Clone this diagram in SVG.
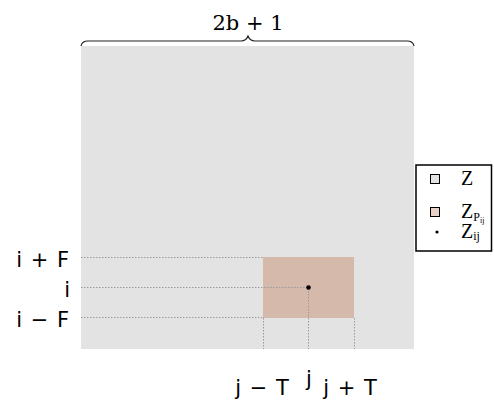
<svg xmlns="http://www.w3.org/2000/svg" width="494" height="403" viewBox="0 0 494 403">
<style>
.lbl{font-family:"DejaVu Sans",sans-serif;font-size:21px;fill:#000}
.ser{font-family:"DejaVu Serif",serif;font-size:21px;fill:#000}
.leg{font-family:"Liberation Serif",serif;font-size:20px;fill:#000}
.dot{stroke:#9a9a9a;stroke-width:1;stroke-dasharray:1.5 1.5;fill:none}
</style>
<rect width="494" height="403" fill="#fff"/>
<g id="matrix">
<rect x="81" y="46" width="333" height="303" fill="#e3e3e3"/>
</g>
<g id="patch">
<rect x="263" y="257" width="91" height="61" fill="#d5b9ab"/>
</g>
<g id="connectors">
<line class="dot" x1="81" y1="257.5" x2="263" y2="257.5"/>
<line class="dot" x1="81" y1="287.5" x2="308" y2="287.5"/>
<line class="dot" x1="81" y1="317.5" x2="263" y2="317.5"/>
<line class="dot" x1="263.5" y1="318" x2="263.5" y2="349"/>
<line class="dot" x1="308.5" y1="288" x2="308.5" y2="349"/>
<line class="dot" x1="354.5" y1="318" x2="354.5" y2="349"/>
</g>
<g id="center">
<circle cx="308.5" cy="287.5" r="2.3" fill="#000"/>
</g>
<g id="brace">
<path d="M81,46 Q82,41 88,41 L241,41 Q246,41 248,36 Q250,41 255,41 L407,41 Q413,41 414,46" fill="none" stroke="#222" stroke-width="1.2"/>
<text class="ser" x="248" y="30" text-anchor="middle">2b + 1</text>
</g>
<g id="row-labels">
<text class="lbl" x="69" y="267" text-anchor="end" word-spacing="2">i + F</text>
<text class="lbl" x="70" y="297" text-anchor="end">i</text>
<text class="lbl" x="69" y="327" text-anchor="end" word-spacing="2">i − F</text>
</g>
<g id="col-labels">
<text class="lbl" x="262" y="395" text-anchor="middle" word-spacing="2">j − T</text>
<text class="lbl" x="309" y="386" text-anchor="middle">j</text>
<text class="lbl" x="350" y="395" text-anchor="middle" word-spacing="2">j + T</text>
</g>
<g id="legend">
<rect x="416" y="165" width="75.5" height="86" fill="#fff" stroke="#000" stroke-width="1.5"/>
<rect x="430.5" y="174.5" width="9" height="9" fill="#e3e3e3" stroke="#000" stroke-width="1"/>
<text class="leg" x="461" y="185">Z</text>
<rect x="430.5" y="207.5" width="9" height="9" fill="#e8d2c7" stroke="#000" stroke-width="1"/>
<text class="leg" x="461" y="218">Z<tspan font-size="12" dy="3">P</tspan><tspan font-size="8" dy="2">ij</tspan></text>
<circle cx="437" cy="232" r="1.6" fill="#000"/>
<text class="leg" x="461" y="238">Z<tspan font-size="12" dy="2">ij</tspan></text>
</g>
</svg>
